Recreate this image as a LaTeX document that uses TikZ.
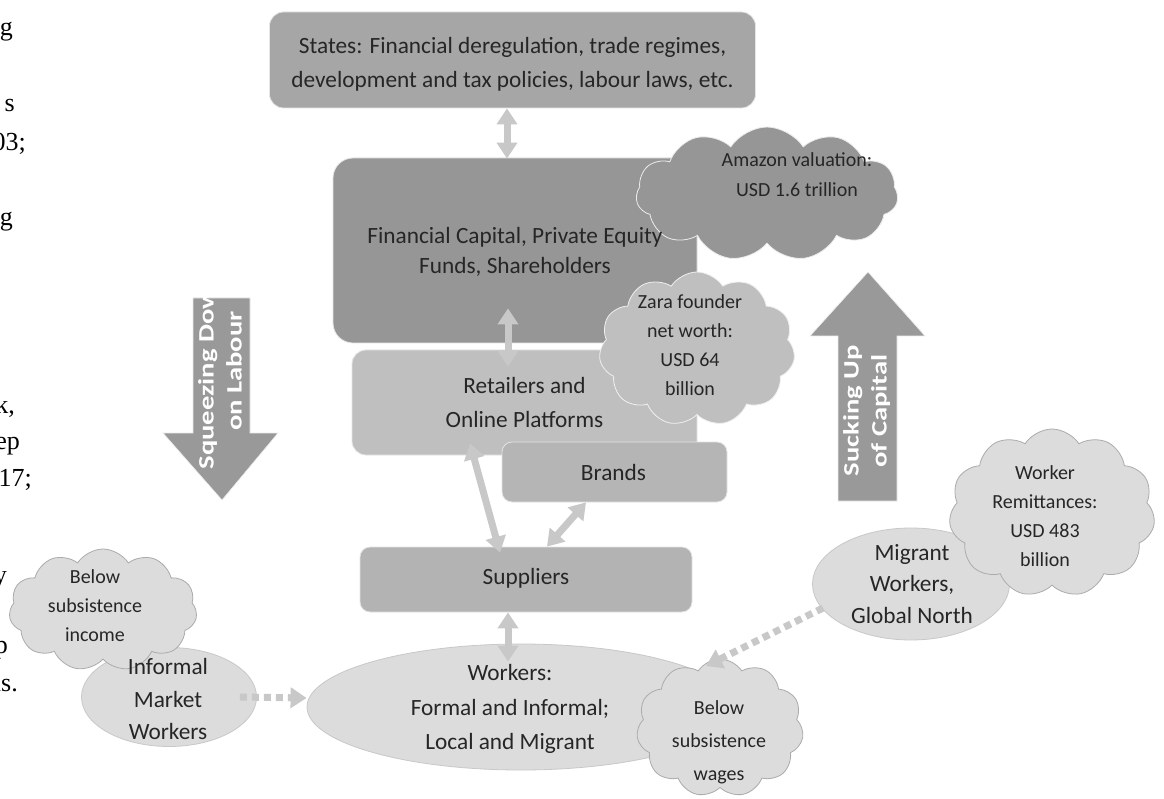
\documentclass[tikz,border=0pt]{standalone}
\usepackage{fontspec}
\usepackage{graphicx}
\newfontfamily\calfont{Carlito}
\newfontfamily\fragfont{Liberation Serif}
\usetikzlibrary{shapes.geometric,shapes.symbols,arrows.meta,calc}
\definecolor{txtc}{HTML}{262626}
\definecolor{statesc}{HTML}{A6A6A6}
\definecolor{finc}{HTML}{969696}
\definecolor{retc}{HTML}{BFBFBF}
\definecolor{brandc}{HTML}{B5B5B5}
\definecolor{supc}{HTML}{B3B3B3}
\definecolor{lightc}{HTML}{DCDCDC}
\definecolor{lineoutc}{HTML}{ABABAB}
\definecolor{connc}{HTML}{C8C8C8}
\definecolor{bigc}{HTML}{999999}
\definecolor{bigtc}{HTML}{FFFFFF}
\newcommand{\bigarrowtext}[2]{\scalebox{1.3}[1]{\begin{tabular}{@{}c@{}}#1\\#2\end{tabular}}}
\begin{document}
\begin{tikzpicture}[x=1pt,y=-1pt,
  box/.style={rectangle, rounded corners=14pt, draw=white!80!gray, line width=0.8pt, inner sep=0pt},
  txt/.style={font=\calfont\fontsize{23.3}{34}\selectfont, text=txtc, align=center, inner sep=0pt},
  ctxt/.style={font=\calfont\fontsize{20}{30}\selectfont, text=txtc, align=center, inner sep=0pt},
  ell/.style={ellipse, fill=lightc, draw=connc, line width=0.8pt, inner sep=0pt},
  cloudl/.style={cloud, cloud puffs=11, cloud puff arc=115, cloud ignores aspect, inner sep=0pt, fill=lightc, draw=lineoutc, line width=0.8pt},
  dbl/.style={line width=7pt, draw=connc, {Triangle[width=20pt,length=16pt]}-{Triangle[width=20pt,length=16pt]}},
  dots/.style={line width=7pt, draw=connc, dash pattern=on 7pt off 5pt, -{Triangle[width=20pt,length=16pt]}},
  bigarrow/.style={fill=bigc, draw=white!85!gray, line width=0.6pt},
  bigtxt/.style={font=\calfont\bfseries\fontsize{22}{28}\selectfont, text=bigtc, inner sep=0pt, rotate=90},
  frag/.style={anchor=base east, inner sep=0pt, font=\fragfont\fontsize{26}{26}\selectfont}
]
\useasboundingbox[fill=white] (0,0) rectangle (1164,799);

% text fragments at left edge
\node[frag] (f1) at (13,36) {g};
\node[frag] (f2) at (15,112) {s};
\node[frag] (f3) at (26,151) {03;};
\node[frag] (f4) at (13,226) {g};
\node[frag] (f5) at (15,413) {k,};
\node[frag] (f6) at (20,449) {ep};
\node[frag] (f7) at (32,486) {017;};
\node[frag] (f8) at (7,583) {y};
\node[frag] (f9) at (8,653) {p};
\node[frag] (f10) at (18,691) {ns.};

% boxes
\node[box, fill=statesc, minimum width=486pt, minimum height=96pt] (states) at (512.5,60) {};
\node[txt] (statest) at (512.5,64) {States: Financial deregulation, trade regimes,\\development and tax policies, labour laws, etc.};

\node[box, fill=finc, rounded corners=20pt, minimum width=364pt, minimum height=185pt] (fin) at (515,250.5) {};

\node[cloudl, fill=finc, draw=white!85!gray, minimum width=262pt, minimum height=134pt] (amazon) at (767,194) {};
\node[ctxt] (amazont) at (797,175) {Amazon valuation:\\USD 1.6 trillion};

\node[txt, font=\calfont\fontsize{23.3}{30}\selectfont] (fint) at (515,252) {Financial Capital, Private Equity\\Funds, Shareholders};

\node[box, fill=retc, minimum width=345pt, minimum height=105pt] (ret) at (524.5,402.5) {};
\node[txt] (rett) at (524.5,402) {Retailers and\\Online Platforms};

\node[cloudl, fill=retc, draw=white!88!gray, minimum width=196pt, minimum height=154pt] (zara) at (697,349) {};
\node[ctxt, font=\calfont\fontsize{20}{29}\selectfont] (zarat) at (690,345) {Zara founder\\net worth:\\USD 64\\billion};

\node[box, fill=brandc, rounded corners=10pt, minimum width=225pt, minimum height=60pt] (brands) at (614.5,472) {};
\node[txt] (brandst) at (613.5,472) {Brands};

\node[box, fill=supc, rounded corners=10pt, minimum width=332pt, minimum height=65pt] (sup) at (526,579.5) {};
\node[txt] (supt) at (526,578) {Suppliers};

% big arrows
\fill[bigarrow] (193,298) -- (250,298) -- (250,433) -- (278,433) -- (222,500) -- (163,433) -- (193,433) -- cycle;
\node[bigtxt] (squeeze) at (222,371) {\bigarrowtext{Squeezing Down}{on Labour}};
\fill[bigarrow] (838,501) -- (897,501) -- (897,336) -- (925,336) -- (868,272) -- (810,336) -- (838,336) -- cycle;
\node[bigtxt] (suck) at (867,411) {\bigarrowtext{Sucking Up}{of Capital}};

% lower ellipses and clouds
\node[ell, minimum width=175pt, minimum height=99pt] (informal) at (169,697) {};
\node[cloudl, minimum width=188pt, minimum height=122pt] (income) at (103,610) {};
\node[ctxt, font=\calfont\fontsize{20}{29}\selectfont] (incomet) at (95,606) {Below\\subsistence\\income};
\node[txt, font=\calfont\fontsize{23.3}{32.5}\selectfont] (informalt) at (168,699) {Informal\\Market\\Workers};

\node[ell, minimum width=428pt, minimum height=126pt] (workers) at (521,707) {};
\node[txt, font=\calfont\fontsize{23.3}{34.5}\selectfont] (workerst) at (510,709) {Workers:\\Formal and Informal;\\Local and Migrant};

\node[cloudl, minimum width=167pt, minimum height=138pt] (wages) at (720,728) {};
\node[ctxt, font=\calfont\fontsize{20}{33}\selectfont] (wagest) at (719,742) {Below\\subsistence\\wages};

\node[ell, minimum width=197pt, minimum height=112pt] (migrant) at (911,584) {};
\node[cloudl, minimum width=206pt, minimum height=168pt] (remit) at (1052,513) {};
\node[txt, font=\calfont\fontsize{23.3}{31.5}\selectfont] (migrantt) at (912,584) {Migrant\\Workers,\\Global North};
\node[ctxt, font=\calfont\fontsize{20}{29}\selectfont] (remitt) at (1045,516) {Worker\\Remittances:\\USD 483\\billion};

% connectors
\draw[dbl] ([xshift=-5.5pt]states.south) -- ([xshift=-8pt,yshift=-1pt]fin.north);
\draw[dbl] ([xshift=-7pt,yshift=35pt]fin.south) -- ([xshift=-16.5pt,yshift=-17pt]ret.north);
\draw[dbl] ([xshift=-54.5pt,yshift=12pt]ret.south) -- ([xshift=-26pt,yshift=-6pt]sup.north);
\draw[dbl] ([xshift=-28.5pt]brands.south) -- ([xshift=21pt]sup.north);
\draw[dbl] ([xshift=-18pt]sup.south) -- ([xshift=-13pt,yshift=-18pt]workers.north);
\draw[dots] ([xshift=-17pt]informal.east) -- ([yshift=9pt]workers.west);
\draw[dots] ($(migrant.center)+(-88,24)$) -- ($(workers.center)+(185,-41)$);
\end{tikzpicture}
\end{document}
